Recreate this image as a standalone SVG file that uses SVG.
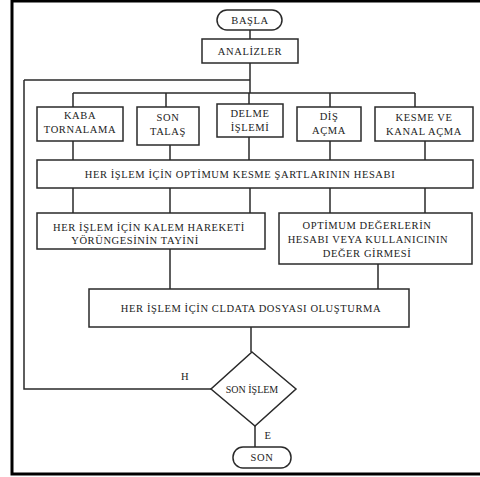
<svg xmlns="http://www.w3.org/2000/svg" width="480" height="477" viewBox="0 0 480 477">
<style>
.b{fill:#fff;stroke:#2a2a2a;stroke-width:1.5}
.c{fill:none;stroke:#2a2a2a;stroke-width:1.5}
text{font-family:'Liberation Serif','DejaVu Serif',serif;font-size:10.5px;fill:#222;text-anchor:middle;letter-spacing:0.6px}
.f{fill:none;stroke:#000;stroke-width:3}
</style>
<rect x="0" y="0" width="480" height="477" fill="#fff"/>
<path class="f" d="M12,0 V474 H480 M12,1 H480"/>
<g font-family="Liberation Serif, serif">
<g id="connectors">
<path class="c" d="M250,30 V39"/>
<path class="c" d="M250,63 V93"/>
<path class="c" d="M24,80 H250"/>
<path class="c" d="M73,93 H415 M73,93 V107 M166,93 V107 M249,93 V104 M330,93 V107 M415,93 V107"/>
<path class="c" d="M73,141 V160 M170,145 V160 M249,137 V160 M330,141 V160 M425,141 V160"/>
<path class="c" d="M73,188 V213 M170,188 V213 M250,188 V213 M330,188 V213 M425,188 V213"/>
<path class="c" d="M170,249 V289 M378,264 V289"/>
<path class="c" d="M251,327 V352"/>
<path class="c" d="M211,389 H24 V80"/>
<path class="c" d="M255,426 V447"/>
<text x="185" y="380">H</text>
<text x="268" y="439">E</text>
</g>
<g id="basla"><rect class="b" x="217" y="10" width="65" height="20" rx="10"/><text x="250" y="23.5">BAŞLA</text></g>
<g id="analizler"><rect class="b" x="202" y="39" width="96" height="24"/><text x="250" y="54.5">ANALİZLER</text></g>
<g id="kaba"><rect class="b" x="37" y="107" width="86" height="34"/><text x="80" y="118.5">KABA</text><text x="80" y="132.5">TORNALAMA</text></g>
<g id="son-talas"><rect class="b" x="137" y="107" width="62" height="38"/><text x="168" y="120.5">SON</text><text x="168" y="135">TALAŞ</text></g>
<g id="delme"><rect class="b" x="217" y="104" width="66" height="33"/><text x="250" y="116.5">DELME</text><text x="250" y="130.5">İŞLEMİ</text></g>
<g id="dis"><rect class="b" x="297" y="107" width="64" height="34"/><text x="329" y="119.5">DİŞ</text><text x="329" y="133.5">AÇMA</text></g>
<g id="kesme"><rect class="b" x="375" y="107" width="98" height="34"/><text x="424" y="120.5">KESME VE</text><text x="424" y="134.5">KANAL  AÇMA</text></g>
<g id="optimum"><rect class="b" x="37" y="160" width="436" height="28"/><text x="240" y="177.5">HER İŞLEM İÇİN OPTİMUM KESME ŞARTLARININ HESABI</text></g>
<g id="kalem"><rect class="b" x="37" y="213" width="228" height="36"/><text x="149" y="230.5">HER İŞLEM İÇİN KALEM HAREKETİ</text><text x="135" y="243.5">YÖRÜNGESİNİN  TAYİNİ</text></g>
<g id="deger"><rect class="b" x="279" y="213" width="193" height="51"/><text x="367" y="228.5">OPTİMUM DEĞERLERİN</text><text x="368" y="242.5">HESABI  VEYA  KULLANICININ</text><text x="367" y="256.5">DEĞER GİRMESİ</text></g>
<g id="cldata"><rect class="b" x="89" y="289" width="320" height="38"/><text x="251" y="311.5">HER İŞLEM İÇİN CLDATA DOSYASI OLUŞTURMA</text></g>
<g id="son-islem"><polygon class="b" points="252,352 296,389 255,426 211,389"/><text x="252" y="392.5" style="font-size:10px;letter-spacing:0">SON İŞLEM</text></g>
<g id="son"><rect class="b" x="233" y="447" width="58" height="21" rx="10"/><text x="262" y="461">SON</text></g>
</g>
</svg>
